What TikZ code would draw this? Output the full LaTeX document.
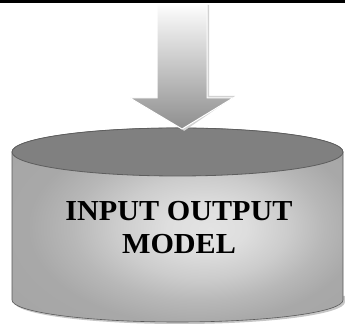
\documentclass[tikz,border=0pt]{standalone}
\usepackage{fontspec}
\newfontfamily\labelfont[FakeStretch=1.04]{Liberation Serif}
\usetikzlibrary{shadings}
\definecolor{capgray}{HTML}{808080}
\definecolor{capedge}{HTML}{5E5E5E}
\definecolor{arrowtop}{HTML}{FCFCFC}
\definecolor{arrowbot}{HTML}{8E8E8E}
% body of the cylinder: light spot right of centre, darker towards the rim
\pgfdeclareradialshading{bodyglow}{\pgfpoint{5bp}{-1bp}}{%
  color(0bp)=(gray!22);
  color(6bp)=(gray!26);
  color(13bp)=(gray!40);
  color(19bp)=(gray!56);
  color(25bp)=(gray!68);
  color(50bp)=(gray!74)}
\tikzset{
  arrowshape/.style={top color=arrowtop, bottom color=arrowbot, draw=white, line width=1pt, line join=miter},
  arrowshadow/.style={fill=gray!35},
  bodyshape/.style={shading=bodyglow, draw=gray!70!black, line width=0.6pt},
  capshape/.style={fill=capgray, draw=capedge, line width=0.8pt},
  labeltext/.style={font=\labelfont\bfseries\fontsize{29}{33}\selectfont, align=center, text=black, inner sep=0pt}
}
\begin{document}
\begin{tikzpicture}[x=1pt,y=1pt]
  \useasboundingbox (0,0) rectangle (345,326);
  % band along the top edge
  \fill[black] (0,323) rectangle (345,326);

  % soft shadow under the cylinder
  \fill[gray!45] (12,30) -- (14,24) arc[start angle=180,end angle=360,x radius=165.5,y radius=22] -- (345,30) -- cycle;
  % cylinder body
  \path[bodyshape] (12,174) -- (12,26) arc[start angle=180,end angle=360,x radius=165.5,y radius=22]
    -- (343,174) arc[start angle=0,end angle=180,x radius=165.5,y radius=24] -- cycle;
  % cylinder lid
  \path[capshape] (177.5,174) ellipse[x radius=165.5,y radius=24];

  % shadow of the arrow
  \fill[arrowshadow] (209,321) -- (209,230) -- (235,230) -- (184,195) -- (182,197) -- (233,228) -- (207,228) -- (207,321) -- cycle;
  % downward arrow
  \path[arrowshape] (157,321) -- (207,321) -- (207,228) -- (233,228) -- (182,197) -- (130,228) -- (157,228) -- cycle;

  \node[labeltext] (label) at (179,98) {INPUT OUTPUT\\MODEL};
\end{tikzpicture}
\end{document}
